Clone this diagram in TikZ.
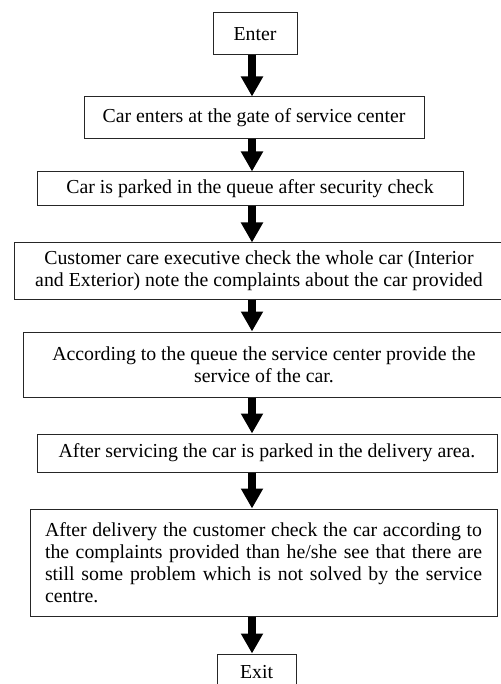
\documentclass[tikz,border=0pt]{standalone}
\usepackage{fontspec}
\setmainfont{Liberation Serif}
\usetikzlibrary{arrows.meta}

\begin{document}
\begin{tikzpicture}[x=1pt,y=-1pt,
  box/.style={draw=black!85, line width=1pt, rectangle, inner sep=0pt, font=\fontsize{19.8}{22}\selectfont},
  flow/.style={line width=8pt, -{Triangle[length=20pt,width=21pt]}}]
\useasboundingbox (0,0) rectangle (500,684);
\coordinate (axis) at (252,0);
% process boxes
\node[box, minimum width=84pt, minimum height=42pt] (enter) at (255,34) {Enter};
\node[box, minimum width=340pt, minimum height=42pt] (gate) at (254,118) {Car enters at the gate of service center};
\node[box, minimum width=426pt, minimum height=34pt] (queue) at (250,189) {Car is parked in the queue after security check};
\node[box, minimum width=490pt, minimum height=56pt, align=center] (check) at (259,271)
  {Customer care executive check the whole car (Interior\\and Exterior) note the complaints about the car provided};
\node[box, minimum width=482pt, minimum height=65pt, align=center] (service) at (264,364.5)
  {According to the queue the service center provide the\\service of the car.};
\node[box, minimum width=460pt, minimum height=38pt] (parked) at (267,453) {After servicing the car is parked in the delivery area.};
\node[box, minimum width=467pt, minimum height=107pt, text width=437pt, align=justify] (deliver) at (263.5,562.5)
  {After delivery the customer check the car according to the complaints provided than he/she see that there are still some problem which is not solved by the service centre.};
\node[box, minimum width=79pt, minimum height=36pt] (exit) at (256.5,672) {Exit};
% arrows between the steps
\draw[flow] (enter.south -| axis) -- (gate.north -| axis);
\draw[flow] (gate.south -| axis) -- (queue.north -| axis);
\draw[flow] (queue.south -| axis) -- (check.north -| axis);
\draw[flow] (check.south -| axis) -- (service.north -| axis);
\draw[flow] (service.south -| axis) -- (parked.north -| axis);
\draw[flow] (parked.south -| axis) -- (deliver.north -| axis);
\draw[flow] (deliver.south -| axis) -- (exit.north -| axis);
\end{tikzpicture}
\end{document}
